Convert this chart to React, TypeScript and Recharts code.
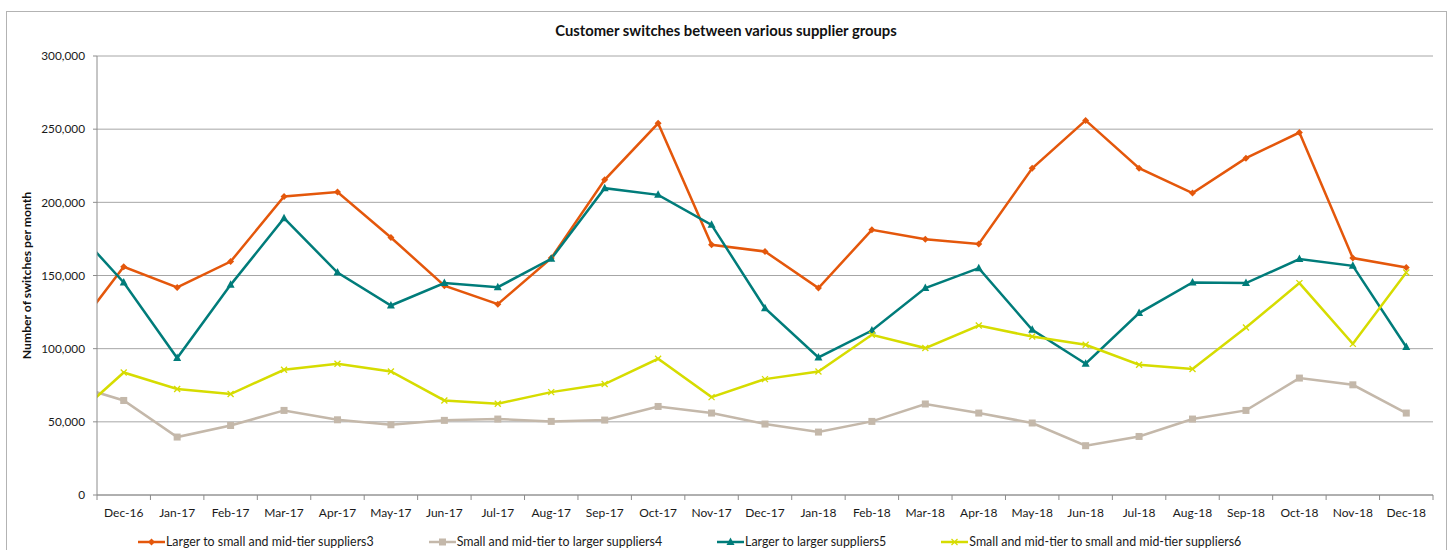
import { LineChart, Line, XAxis, YAxis, CartesianGrid, Legend } from 'recharts';

// first entry (Nov-16) only feeds the clipped segment at the left edge
const months = [
  'Nov-16', 'Dec-16', 'Jan-17', 'Feb-17', 'Mar-17', 'Apr-17', 'May-17', 'Jun-17', 'Jul-17',
  'Aug-17', 'Sep-17', 'Oct-17', 'Nov-17', 'Dec-17', 'Jan-18', 'Feb-18', 'Mar-18', 'Apr-18',
  'May-18', 'Jun-18', 'Jul-18', 'Aug-18', 'Sep-18', 'Oct-18', 'Nov-18', 'Dec-18'
];

const largerToSmall = [
  108000, 156000, 141800, 159500, 204000, 207000, 176000, 143000, 130400,
  161900, 215400, 254000, 171000, 166400, 141400, 181200, 174800, 171600,
  223300, 256000, 223300, 206300, 230200, 247700, 161900, 155500
];

const smallToLarger = [
  75600, 64600, 39600, 47500, 57800, 51400, 48000, 51000, 51900,
  50300, 51200, 60500, 56000, 48500, 43000, 50300, 62200, 56000,
  49200, 33700, 40000, 51900, 57800, 79900, 75300, 56000
];

const largerToLarger = [
  185400, 145200, 93600, 143600, 189200, 152000, 129500, 144800, 142000,
  161400, 209700, 205100, 184600, 127700, 94000, 112400, 141400, 155000,
  112900, 89700, 124300, 145200, 144800, 161200, 156600, 101100
];

const smallToSmall = [
  50900, 83700, 72400, 69000, 85600, 89700, 84400, 64600, 62400,
  70300, 75800, 93100, 66900, 79200, 84400, 109500, 100400, 115800,
  108300, 102700, 89000, 86100, 114500, 144800, 103300, 152000
];

const yTicks = [0, 50000, 100000, 150000, 200000, 250000, 300000];
const xTicks = months.map((_, i) => i).slice(1);

const data = months.map((m, i) => ({
  idx: i,
  month: m,
  s3: largerToSmall[i],
  s4: smallToLarger[i],
  s5: largerToLarger[i],
  s6: smallToSmall[i]
}));

const W = 1452;
const H = 550;
const MARGIN = { top: 56, right: 19, bottom: 0, left: 0 };
const Y_W = 97;
const STEP = (W - MARGIN.right - MARGIN.left - Y_W) / 25;
const FONT = 'Lato, "Liberation Sans", sans-serif';
const AXIS = '#8c8c8c';

type Shape = 'diamond' | 'square' | 'triangle' | 'x';

const series: { key: string; name: string; color: string; shape: Shape }[] = [
  { key: 's3', name: 'Larger to small and mid-tier suppliers3', color: '#e4570b', shape: 'diamond' },
  { key: 's4', name: 'Small and mid-tier to larger suppliers4', color: '#c4b8aa', shape: 'square' },
  { key: 's5', name: 'Larger to larger suppliers5', color: '#007c7a', shape: 'triangle' },
  { key: 's6', name: 'Small and mid-tier to small and mid-tier suppliers6', color: '#d6dc00', shape: 'x' }
];

function Marker({ cx, cy, shape, color }: { cx: number; cy: number; shape: Shape; color: string }) {
  if (cx == null || cy == null) return null;
  if (shape === 'diamond')
    return <polygon points={`${cx},${cy - 3.5} ${cx + 3.5},${cy} ${cx},${cy + 3.5} ${cx - 3.5},${cy}`} fill={color} />;
  if (shape === 'square') return <rect x={cx - 3.5} y={cy - 3.5} width={7} height={7} fill={color} />;
  if (shape === 'triangle')
    return <polygon points={`${cx},${cy - 4.5} ${cx + 4},${cy + 3} ${cx - 4},${cy + 3}`} fill={color} />;
  return (
    <g stroke={color} strokeWidth={1.3}>
      <line x1={cx - 3} y1={cy - 3} x2={cx + 3} y2={cy + 3} />
      <line x1={cx - 3} y1={cy + 3} x2={cx + 3} y2={cy - 3} />
    </g>
  );
}

function MonthTick(props: any) {
  const { x, y, payload } = props;
  const half = STEP / 2;
  return (
    <g>
      <line x1={x - half} x2={x - half} y1={y} y2={y + 5} stroke={AXIS} />
      {payload.value === months.length - 1 && (
        <line x1={x + half} x2={x + half} y1={y} y2={y + 5} stroke={AXIS} />
      )}
      <text x={x} y={y + 22} textAnchor="middle" fontSize={12} fill="#1a1a1a" fontFamily={FONT}>
        {months[payload.value]}
      </text>
    </g>
  );
}

function LegendBox() {
  return (
    <div style={{ display: 'flex', gap: 55, paddingLeft: 138, fontSize: 12.4, fontFamily: FONT, color: '#1a1a1a', lineHeight: '16px' }}>
      {series.map((s) => (
        <div key={s.key} style={{ display: 'flex', alignItems: 'center' }}>
          <svg width={27} height={12} style={{ marginRight: 1 }}>
            <line x1={0} x2={27} y1={6} y2={6} stroke={s.color} strokeWidth={2.5} />
            <Marker cx={13.5} cy={6} shape={s.shape} color={s.color} />
          </svg>
          <span>{s.name}</span>
        </div>
      ))}
    </div>
  );
}

export default function App() {
  return (
    <div style={{ position: 'absolute', left: 0, top: 0, width: W, height: H, overflow: 'hidden', background: '#fff' }}>
      <div style={{ position: 'absolute', left: 6, top: 11, width: 1439, height: 600, border: '1px solid #b3b3b3' }} />
      <div style={{ position: 'absolute', left: 0, top: 21, width: W, textAlign: 'center', fontFamily: FONT, fontWeight: 700, fontSize: 14.8, color: '#111' }}>
        Customer switches between various supplier groups
      </div>
      <div style={{ position: 'absolute', left: 0, top: 0 }}>
        <LineChart width={W} height={H} data={data} margin={MARGIN}>
          <CartesianGrid horizontal vertical={false} stroke="#a6a6a6" />
          <XAxis
            dataKey="idx"
            type="number"
            domain={[0.5, 25.5]}
            allowDataOverflow
            ticks={xTicks}
            interval={0}
            tick={<MonthTick />}
            tickLine={false}
            tickSize={0}
            tickMargin={0}
            height={39}
            stroke={AXIS}
          />
          <YAxis
            type="number"
            domain={[0, 300000]}
            ticks={yTicks}
            width={Y_W}
            stroke={AXIS}
            tickSize={4}
            tickMargin={8}
            tick={{ fontSize: 11.8, fill: '#1a1a1a', fontFamily: FONT }}
            tickFormatter={(v: number) => v.toLocaleString('en-US')}
            label={{
              content: ({ viewBox }: any) => {
                const lx = viewBox.x + 26;
                const ly = viewBox.y + viewBox.height / 2;
                return (
                  <text x={lx} y={ly} transform={`rotate(-90 ${lx} ${ly})`} textAnchor="middle" dominantBaseline="central"
                    fontSize={12.2} fontWeight={700} fontFamily={FONT} fill="#111">
                    Number of switches per month
                  </text>
                );
              }
            }}
          />
          <Legend verticalAlign="bottom" align="left" height={16} wrapperStyle={{ left: 0, width: W }} content={() => <LegendBox />} />
          {series.map((s) => (
            <Line
              key={s.key}
              dataKey={s.key}
              name={s.name}
              stroke={s.color}
              strokeWidth={2.5}
              isAnimationActive={false}
              dot={(p: any) => <Marker key={`${s.key}-${p.index}`} cx={p.cx} cy={p.cy} shape={s.shape} color={s.color} />}
              activeDot={false}
            />
          ))}
        </LineChart>
      </div>
    </div>
  );
}
